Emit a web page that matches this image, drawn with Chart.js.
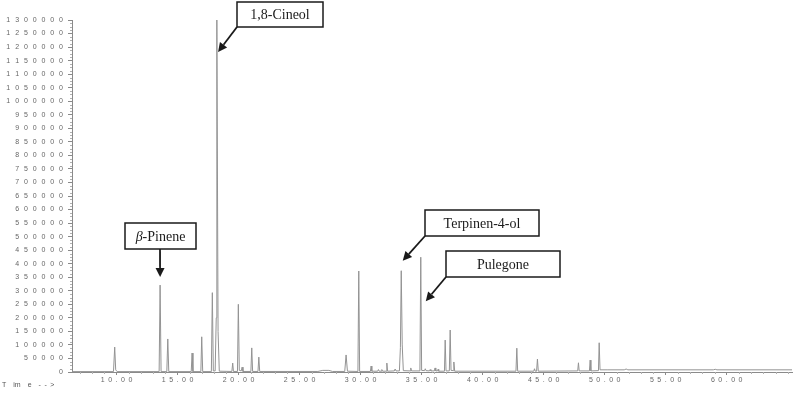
<!DOCTYPE html>
<html>
<head>
<meta charset="utf-8">
<script src="https://cdn.jsdelivr.net/npm/chart.js@4/dist/chart.umd.min.js"></script>
<style>
  html, body { margin: 0; padding: 0; background: #fff; }
  #wrap { position: relative; width: 793px; height: 393px; }
</style>
</head>
<body>
<div id="wrap"><canvas id="c" width="793" height="393"></canvas></div>
<script>
// ---- Data ----
const retentionTime = [
  6.35, 9.75, 9.85, 9.93, 10.05,
  13.49, 13.57, 13.65,
  14.12, 14.20, 14.28,
  16.12, 16.19, 16.26,
  16.91, 16.98, 17.06,
  17.77, 17.85, 17.93,
  18.08, 18.17, 18.22, 18.32, 18.42,
  19.45, 19.52, 19.58,
  19.91, 19.98, 20.06,
  20.22, 20.29, 20.36,
  21.01, 21.08, 21.15,
  21.59, 21.66, 21.73,
  26.50, 26.90, 27.40, 27.70,
  28.70, 28.81, 28.92,
  29.78, 29.85, 29.92,
  30.80, 30.86, 30.92,
  31.40, 31.46, 31.52,
  31.68, 31.74, 31.80,
  32.09, 32.15, 32.21,
  32.76, 32.83, 32.90,
  33.18, 33.26, 33.33, 33.41, 33.50,
  34.05, 34.11, 34.17,
  34.86, 34.93, 35.00,
  35.24, 35.30, 35.36,
  35.64, 35.70, 35.76,
  36.04, 36.10, 36.16,
  36.30, 36.35, 36.40,
  36.87, 36.93, 37.00,
  37.27, 37.34, 37.41,
  37.58, 37.64, 37.71,
  42.73, 42.80, 42.87,
  44.19, 44.25, 44.31,
  44.42, 44.49, 44.56,
  47.79, 47.85, 47.91,
  48.75, 48.81, 48.87,
  49.49, 49.55, 49.62,
  50.20, 51.60, 51.76, 51.90,
  58.90, 59.06, 59.20, 65.35
];
const abundance = [
  1500, 1500, 92000, 8000, 1500,
  1500, 321000, 1500,
  1500, 122000, 1500,
  1500, 70000, 1500,
  1500, 130000, 1500,
  1500, 293000, 4000,
  4000, 200000, 1300000, 150000, 3000,
  2000, 33000, 2000,
  2000, 250000, 6000,
  4000, 18000, 2000,
  2000, 89000, 2000,
  2000, 55000, 2000,
  2000, 6000, 6000, 2000,
  2000, 63000, 3000,
  2000, 373000, 2000,
  2000, 22000, 3000,
  3000, 9000, 3000,
  3000, 9000, 3000,
  3000, 33000, 3000,
  4000, 11000, 4000,
  4000, 90000, 374000, 100000, 5000,
  4000, 15000, 4000,
  4000, 424000, 6000,
  5000, 12000, 5000,
  4000, 9000, 4000,
  4000, 15000, 4000,
  4000, 10000, 3000,
  3000, 118000, 4000,
  4000, 155000, 6000,
  5000, 37000, 3000,
  3000, 88000, 3000,
  3000, 12000, 3000,
  3000, 48000, 3000,
  4000, 34000, 4000,
  4000, 44000, 4000,
  5000, 108000, 8000,
  8000, 8000, 11000, 8000,
  8000, 10000, 8000, 8000
];
const xTickValues = [10, 15, 20, 25, 30, 35, 40, 45, 50, 55, 60];
const yTickStep = 50000;
const yMax = 1300000;

// Labelled peaks: [label, retention time, abundance]
const peakLabels = ['1,8-Cineol', 'β-Pinene', 'Terpinen-4-ol', 'Pulegone'];
const peakTimes = [18.24, 13.57, 33.33, 34.93];
const peakValues = [1300000, 321000, 374000, 424000];

// ---- Styles for annotation boxes (pixel layout) ----
const annStyle = [
  { box: [237, 2, 86, 25], from: [237, 27], dx: 1, dy: 32 },
  { box: [125, 223, 71, 26], from: [160, 249], dx: 0, dy: -8 },
  { box: [425, 210, 114, 26], from: [425, 236], dx: 1.5, dy: -10 },
  { box: [446, 251, 114, 26], from: [446, 277], dx: 5, dy: 44 }
];

const points = retentionTime.map((t, i) => ({ x: t, y: abundance[i] }));

function spaced(str, sep) { return String(str).split('').join(sep); }

function drawArrow(ctx, x1, y1, x2, y2) {
  const ang = Math.atan2(y2 - y1, x2 - x1);
  const L = 9, W = 4.5;
  const bx = x2 - L * Math.cos(ang), by = y2 - L * Math.sin(ang);
  ctx.beginPath();
  ctx.moveTo(x1, y1);
  ctx.lineTo(bx, by);
  ctx.stroke();
  ctx.beginPath();
  ctx.moveTo(x2, y2);
  ctx.lineTo(bx + W * Math.sin(ang), by - W * Math.cos(ang));
  ctx.lineTo(bx - W * Math.sin(ang), by + W * Math.cos(ang));
  ctx.closePath();
  ctx.fill();
}

const extras = {
  id: 'extras',
  afterDraw(chart) {
    const ctx = chart.ctx;
    const xs = chart.scales.x, ys = chart.scales.y;
    const area = chart.chartArea;
    ctx.save();
    // minor ticks
    ctx.strokeStyle = '#b0b0b0';
    ctx.lineWidth = 1;
    ctx.beginPath();
    for (let v = 0; v <= yMax; v += 12500) {
      if (v % yTickStep === 0) continue;
      const py = Math.round(ys.getPixelForValue(v)) + 0.5;
      ctx.moveTo(area.left - 2, py);
      ctx.lineTo(area.left, py);
    }
    for (let t = 7; t <= 65; t += 1) {
      if (xTickValues.includes(t)) continue;
      const px = Math.round(xs.getPixelForValue(t)) + 0.5;
      ctx.moveTo(px, area.bottom);
      ctx.lineTo(px, area.bottom + 2);
    }
    ctx.stroke();
    // "Time -->" label
    ctx.fillStyle = '#555';
    ctx.font = '7px "Liberation Sans", Arial, sans-serif';
    ctx.textBaseline = 'middle';
    ctx.textAlign = 'left';
    ctx.fillText('T\u2002\u2002im\u2002\u2002e\u2002\u2002-\u2002-\u2002>', 2, 385);

    // annotations
    ctx.strokeStyle = '#1a1a1a';
    ctx.fillStyle = '#1a1a1a';
    peakLabels.forEach((lab, i) => {
      const s = annStyle[i];
      const [bx, by, bw, bh] = s.box;
      ctx.lineWidth = 1.5;
      ctx.fillStyle = '#fff';
      ctx.fillRect(bx, by, bw, bh);
      ctx.strokeRect(bx, by, bw, bh);
      ctx.fillStyle = '#1a1a1a';
      ctx.textAlign = 'center';
      ctx.textBaseline = 'middle';
      const cx = bx + bw / 2, cy = by + bh / 2 + 1;
      if (lab.startsWith('β')) {
        ctx.font = 'italic 14px "Liberation Serif", "Times New Roman", serif';
        const w1 = ctx.measureText('β').width;
        ctx.font = '14px "Liberation Serif", "Times New Roman", serif';
        const rest = lab.slice(1);
        const w2 = ctx.measureText(rest).width;
        const start = cx - (w1 + w2) / 2;
        ctx.textAlign = 'left';
        ctx.font = 'italic 14px "Liberation Serif", "Times New Roman", serif';
        ctx.fillText('β', start, cy);
        ctx.font = '14px "Liberation Serif", "Times New Roman", serif';
        ctx.fillText(rest, start + w1, cy);
      } else {
        ctx.font = '14px "Liberation Serif", "Times New Roman", serif';
        ctx.fillText(lab, cx, cy);
      }
      const tx = xs.getPixelForValue(peakTimes[i]) + s.dx;
      const ty = ys.getPixelForValue(peakValues[i]) + s.dy;
      ctx.lineWidth = 1.8;
      drawArrow(ctx, s.from[0], s.from[1], tx, ty);
    });
    ctx.restore();
  }
};

new Chart(document.getElementById('c'), {
  type: 'scatter',
  data: {
    datasets: [{
      data: points,
      showLine: true,
      borderColor: '#939393',
      borderWidth: 1,
      pointRadius: 0,
      tension: 0,
      fill: false
    }]
  },
  options: {
    responsive: false,
    animation: false,
    events: [],
    layout: { padding: { left: 0, top: 20, right: 1, bottom: 0 } },
    plugins: { legend: { display: false }, tooltip: { enabled: false } },
    scales: {
      x: {
        type: 'linear',
        min: 6.35,
        max: 65.35,
        afterBuildTicks(scale) { scale.ticks = xTickValues.map(v => ({ value: v })); },
        afterFit(scale) { scale.height = 21; },
        border: { display: true, color: '#8a8a8a', width: 1 },
        grid: { drawOnChartArea: false, drawTicks: true, tickLength: 3, color: '#8a8a8a' },
        ticks: {
          maxRotation: 0,
          autoSkip: false,
          padding: 1,
          color: '#666',
          font: { size: 7, family: '"Liberation Sans", Arial, sans-serif' },
          callback: v => spaced(Number(v).toFixed(2), '\u2002')
        }
      },
      y: {
        min: 0,
        max: yMax,
        afterBuildTicks(scale) {
          const t = [];
          for (let v = 0; v <= yMax; v += yTickStep) t.push({ value: v });
          scale.ticks = t;
        },
        afterFit(scale) { scale.width = 72; },
        border: { display: true, color: '#8a8a8a', width: 1 },
        grid: { drawOnChartArea: false, drawTicks: true, tickLength: 4, color: '#8a8a8a' },
        ticks: {
          autoSkip: false,
          padding: 5,
          color: '#666',
          font: { size: 7, family: '"Liberation Sans", Arial, sans-serif' },
          callback: v => spaced(v, '\u2002\u2009')
        }
      }
    }
  },
  plugins: [extras]
});
</script>
</body>
</html>
